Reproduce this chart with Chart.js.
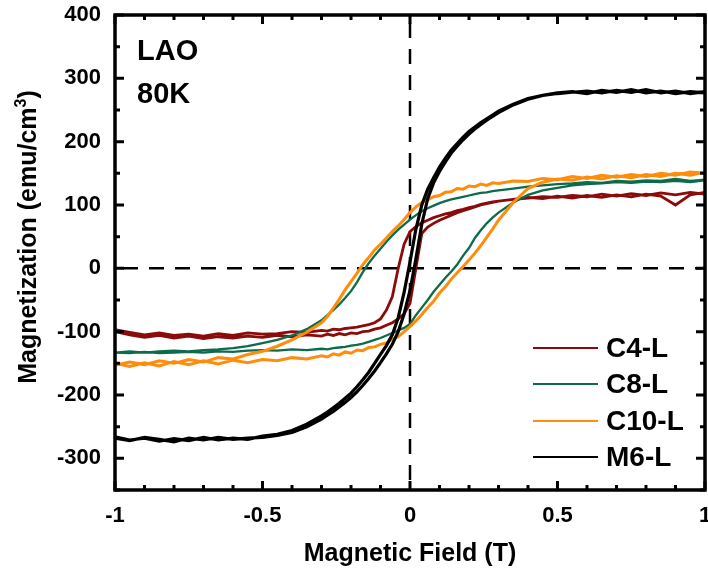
<!DOCTYPE html>
<html>
<head>
<meta charset="utf-8">
<script src="https://cdn.jsdelivr.net/npm/chart.js@4.4.1/dist/chart.umd.min.js"></script>
<style>
    body { margin: 0; background: #fff; }
    #wrap { width: 708px; height: 579px; }
</style>
</head>
<body>
<div id="wrap"><canvas id="loopChart" width="708" height="579"></canvas></div>
<script>
// Field points (T), shared by every branch
const field = [-1, -0.95, -0.9, -0.85, -0.8, -0.75, -0.7, -0.65, -0.6, -0.55, -0.5, -0.45, -0.4, -0.35, -0.3,
    -0.28, -0.26, -0.24, -0.22, -0.2, -0.18, -0.16, -0.14, -0.12, -0.1, -0.08, -0.06, -0.04, -0.02, 0,
    0.02, 0.04, 0.06, 0.08, 0.1, 0.12, 0.14, 0.16, 0.18, 0.2, 0.22, 0.24, 0.26, 0.28,
    0.3, 0.35, 0.4, 0.45, 0.5, 0.55, 0.6, 0.65, 0.7, 0.75, 0.8, 0.85, 0.9, 0.95, 1]

// Magnetization (emu/cm3): "Down" = sweep from +1 T to -1 T, "Up" = sweep back
const c4Down = [-97, -101, -105, -102, -106, -104, -107, -103, -106, -102, -104, -103, -100, -101, -98,
    -99, -96, -97, -95, -94, -93, -91, -89, -86, -80, -66, -45, 0, 38, 58,
    66, 72, 76, 80, 83, 86, 88, 91, 93, 96, 98, 101, 103, 105,
    106, 109, 111, 113, 112, 115, 113, 117, 114, 118, 115, 119, 116, 120, 117]
const c4Up = [-100, -105, -109, -106, -110, -107, -111, -108, -110, -107, -109, -106, -108, -105, -107,
    -104, -106, -103, -105, -102, -103, -100, -99, -96, -94, -90, -86, -80, -72, -55,
    0, 55, 65, 71, 76, 80, 84, 88, 91, 94, 97, 100, 102, 104,
    106, 109, 112, 110, 114, 111, 115, 112, 116, 113, 117, 114, 100, 116, 120]

const c8Down = [-133, -131, -133, -131, -130, -131, -129, -128, -126, -123, -118, -113, -106, -96, -82,
    -74, -66, -57, -47, -36, -22, -6, 8, 20, 31, 42, 52, 61, 69, 77,
    84, 90, 95, 99, 103, 106, 109, 111, 113, 115, 117, 119, 120, 122,
    123, 126, 129, 131, 133, 134, 136, 135, 138, 137, 139, 138, 141, 138, 140]
const c8Up = [-133, -134, -132, -134, -133, -132, -133, -131, -132, -130, -129, -130, -128, -129, -127,
    -128, -126, -125, -124, -122, -121, -119, -116, -113, -110, -106, -102, -98, -94, -88,
    -74, -62, -50, -37, -26, -15, -5, 6, 20, 32, 48, 60, 71, 80,
    88, 104, 116, 123, 127, 131, 133, 134, 136, 135, 137, 136, 138, 136, 139]

const c10Down = [-153, -148, -152, -146, -150, -144, -148, -141, -143, -136, -131, -123, -113, -101, -86,
    -76, -63, -49, -34, -21, -8, 6, 17, 29, 38, 48, 58, 67, 77, 88,
    97, 104, 108, 113, 115, 120, 121, 126, 125, 130, 129, 133, 131, 135,
    134, 138, 137, 142, 140, 145, 142, 147, 144, 148, 145, 150, 147, 152, 150]
const c10Up = [-150, -155, -149, -154, -147, -152, -146, -151, -145, -149, -144, -146, -141, -143, -138,
    -140, -135, -137, -132, -134, -129, -130, -125, -124, -120, -118, -112, -108, -100, -92,
    -83, -73, -62, -52, -39, -29, -17, -7, 3, 13, 24, 36, 49, 62,
    76, 104, 126, 136, 141, 139, 144, 141, 146, 143, 148, 145, 150, 147, 152]

const m6Down = [-266, -271, -268, -273, -269, -272, -267, -271, -268, -270, -265, -262, -256, -246, -233,
    -227, -220, -213, -205, -197, -187, -176, -164, -150, -136, -122, -105, -78, -38, 10,
    62, 100, 125, 143, 160, 174, 187, 197, 207, 216, 223, 230, 236, 242,
    248, 259, 268, 273, 277, 279, 276, 281, 278, 282, 277, 280, 276, 279, 277]
const m6Up = [-268, -272, -267, -270, -274, -268, -271, -267, -270, -268, -267, -264, -259, -250, -238,
    -232, -226, -219, -212, -204, -195, -185, -174, -162, -149, -135, -120, -100, -72, -35,
    15, 70, 110, 135, 153, 168, 182, 193, 203, 212, 220, 227, 234, 240,
    246, 258, 267, 273, 276, 278, 280, 277, 281, 278, 282, 277, 280, 276, 279]

const sampleNames = ['C4-L', 'C8-L', 'C10-L', 'M6-L']
const sampleColors = ['#8b0a0a', '#0b6b4a', '#ff8c0a', '#000000']
const yTicks = [-300, -200, -100, 0, 100, 200, 300, 400]
const xTicks = [-1, -0.5, 0, 0.5, 1]

const boldFont = '"Liberation Sans", Arial, sans-serif'

// join the two sweeps into one closed loop
function buildLoop(down, up) {
    let pts = []
    for (let i = field.length - 1; i >= 0; i--) pts.push({ x: field[i], y: down[i] })
    for (let i = 0; i < field.length; i++) pts.push({ x: field[i], y: up[i] })
    return pts
}

const loops = [buildLoop(c4Down, c4Up), buildLoop(c8Down, c8Up), buildLoop(c10Down, c10Up), buildLoop(m6Down, m6Up)]
const widths = [2.8, 2.3, 3, 3.2]
const drawOrder = [3, 2, 1, 0]

// Frame, inward ticks, zero lines, labels
const framePlugin = {
    id: 'framePlugin',
    beforeDatasetsDraw(chart) {
        const { ctx, chartArea: a, scales: { x, y } } = chart
        ctx.save()
        ctx.strokeStyle = '#000'
        ctx.lineWidth = 2.5
        ctx.setLineDash([15, 11])
        let x0 = x.getPixelForValue(0)
        let y0 = y.getPixelForValue(0)
        ctx.beginPath()
        ctx.moveTo(x0, a.top + 8)
        ctx.lineTo(x0, a.bottom)
        ctx.moveTo(a.left + 8, y0)
        ctx.lineTo(a.right, y0)
        ctx.stroke()
        ctx.restore()
    },
    afterDatasetsDraw(chart) {
        const { ctx, chartArea: a, scales: { x, y } } = chart
        ctx.save()
        ctx.strokeStyle = '#000'
        ctx.lineWidth = 3
        ctx.beginPath()
        // minor ticks every 0.1 T and 50 emu/cm3
        for (let k = -10; k <= 10; k++) {
            let px = x.getPixelForValue(k / 10)
            let len = k % 5 === 0 ? 9 : 5
            ctx.moveTo(px, a.bottom); ctx.lineTo(px, a.bottom - len)
            ctx.moveTo(px, a.top); ctx.lineTo(px, a.top + len)
        }
        for (let v = -350; v <= 400; v += 50) {
            let py = y.getPixelForValue(v)
            let len = v % 100 === 0 ? 9 : 5
            ctx.moveTo(a.left, py); ctx.lineTo(a.left + len, py)
            ctx.moveTo(a.right, py); ctx.lineTo(a.right - len, py)
        }
        ctx.stroke()
        ctx.lineWidth = 3.5
        ctx.strokeRect(a.left, a.top, a.right - a.left, a.bottom - a.top)
        ctx.restore()
    },
    afterDraw(chart) {
        const { ctx } = chart
        ctx.save()
        ctx.fillStyle = '#000'
        ctx.font = 'bold 29px ' + boldFont
        ctx.textAlign = 'left'
        ctx.textBaseline = 'alphabetic'
        ctx.fillText('LAO', 137, 60)
        ctx.fillText('80K', 137, 103)

        // y axis title with superscript
        let mainFont = 'bold 25px ' + boldFont
        let supFont = 'bold 16px ' + boldFont
        let t1 = 'Magnetization (emu/cm', t2 = '3', t3 = ')'
        ctx.font = mainFont
        let w1 = ctx.measureText(t1).width, w3 = ctx.measureText(t3).width
        ctx.font = supFont
        let w2 = ctx.measureText(t2).width
        let total = w1 + w2 + w3
        ctx.translate(36, 237)
        ctx.rotate(-Math.PI / 2)
        ctx.textBaseline = 'alphabetic'
        ctx.font = mainFont
        ctx.fillText(t1, -total / 2, 0)
        ctx.font = supFont
        ctx.fillText(t2, -total / 2 + w1, -10)
        ctx.font = mainFont
        ctx.fillText(t3, -total / 2 + w1 + w2, 0)
        ctx.setTransform(1, 0, 0, 1, 0, 0)

        // legend, lower right
        let rows = [348, 384, 421, 457]
        ctx.font = 'bold 28px ' + boldFont
        ctx.textBaseline = 'middle'
        chart.data.datasets.forEach((ds, i) => {
            ctx.strokeStyle = ds.borderColor
            ctx.lineWidth = 2.2
            ctx.beginPath()
            ctx.moveTo(533, rows[i])
            ctx.lineTo(598, rows[i])
            ctx.stroke()
            ctx.fillText(ds.label, 606, rows[i] + 1)
        })
        ctx.restore()
    }
}

const chartConfig = {
    type: 'scatter',
    data: {
        datasets: sampleNames.map((name, i) => ({
            label: name,
            data: loops[i],
            showLine: true,
            borderColor: sampleColors[i],
            backgroundColor: sampleColors[i],
            borderWidth: widths[i],
            pointRadius: 0,
            tension: 0,
            order: drawOrder[i]
        }))
    },
    options: {
        responsive: false,
        animation: false,
        devicePixelRatio: 1,
        layout: { padding: { top: 15, right: 3, left: 0, bottom: 0 }, autoPadding: false },
        plugins: {
            legend: { display: false },
            tooltip: { enabled: false }
        },
        scales: {
            x: {
                type: 'linear',
                min: -1,
                max: 1,
                afterFit: s => { s.height = 89; s.paddingLeft = 0; s.paddingRight = 0 },
                afterBuildTicks: s => { s.ticks = xTicks.map(v => ({ value: v })) },
                grid: { display: false, drawTicks: false },
                border: { display: false },
                ticks: {
                    color: '#000',
                    padding: 13,
                    maxRotation: 0,
                    callback: v => String(v),
                    font: { family: boldFont, size: 22, weight: 'bold' }
                },
                title: {
                    display: true,
                    text: 'Magnetic Field (T)',
                    color: '#000',
                    padding: { top: 0, bottom: 10 },
                    font: { family: boldFont, size: 25, weight: 'bold' }
                }
            },
            y: {
                type: 'linear',
                min: -350,
                max: 400,
                afterFit: s => { s.width = 115; s.paddingTop = 0; s.paddingBottom = 0 },
                afterBuildTicks: s => { s.ticks = yTicks.map(v => ({ value: v })) },
                grid: { display: false, drawTicks: false },
                border: { display: false },
                ticks: {
                    color: '#000',
                    padding: 14,
                    callback: v => String(v),
                    font: { family: boldFont, size: 22, weight: 'bold' }
                },
                title: { display: false }
            }
        }
    },
    plugins: [framePlugin]
}

var ctx = document.getElementById('loopChart').getContext('2d')
var loopChart = new Chart(ctx, chartConfig)
</script>
</body>
</html>
